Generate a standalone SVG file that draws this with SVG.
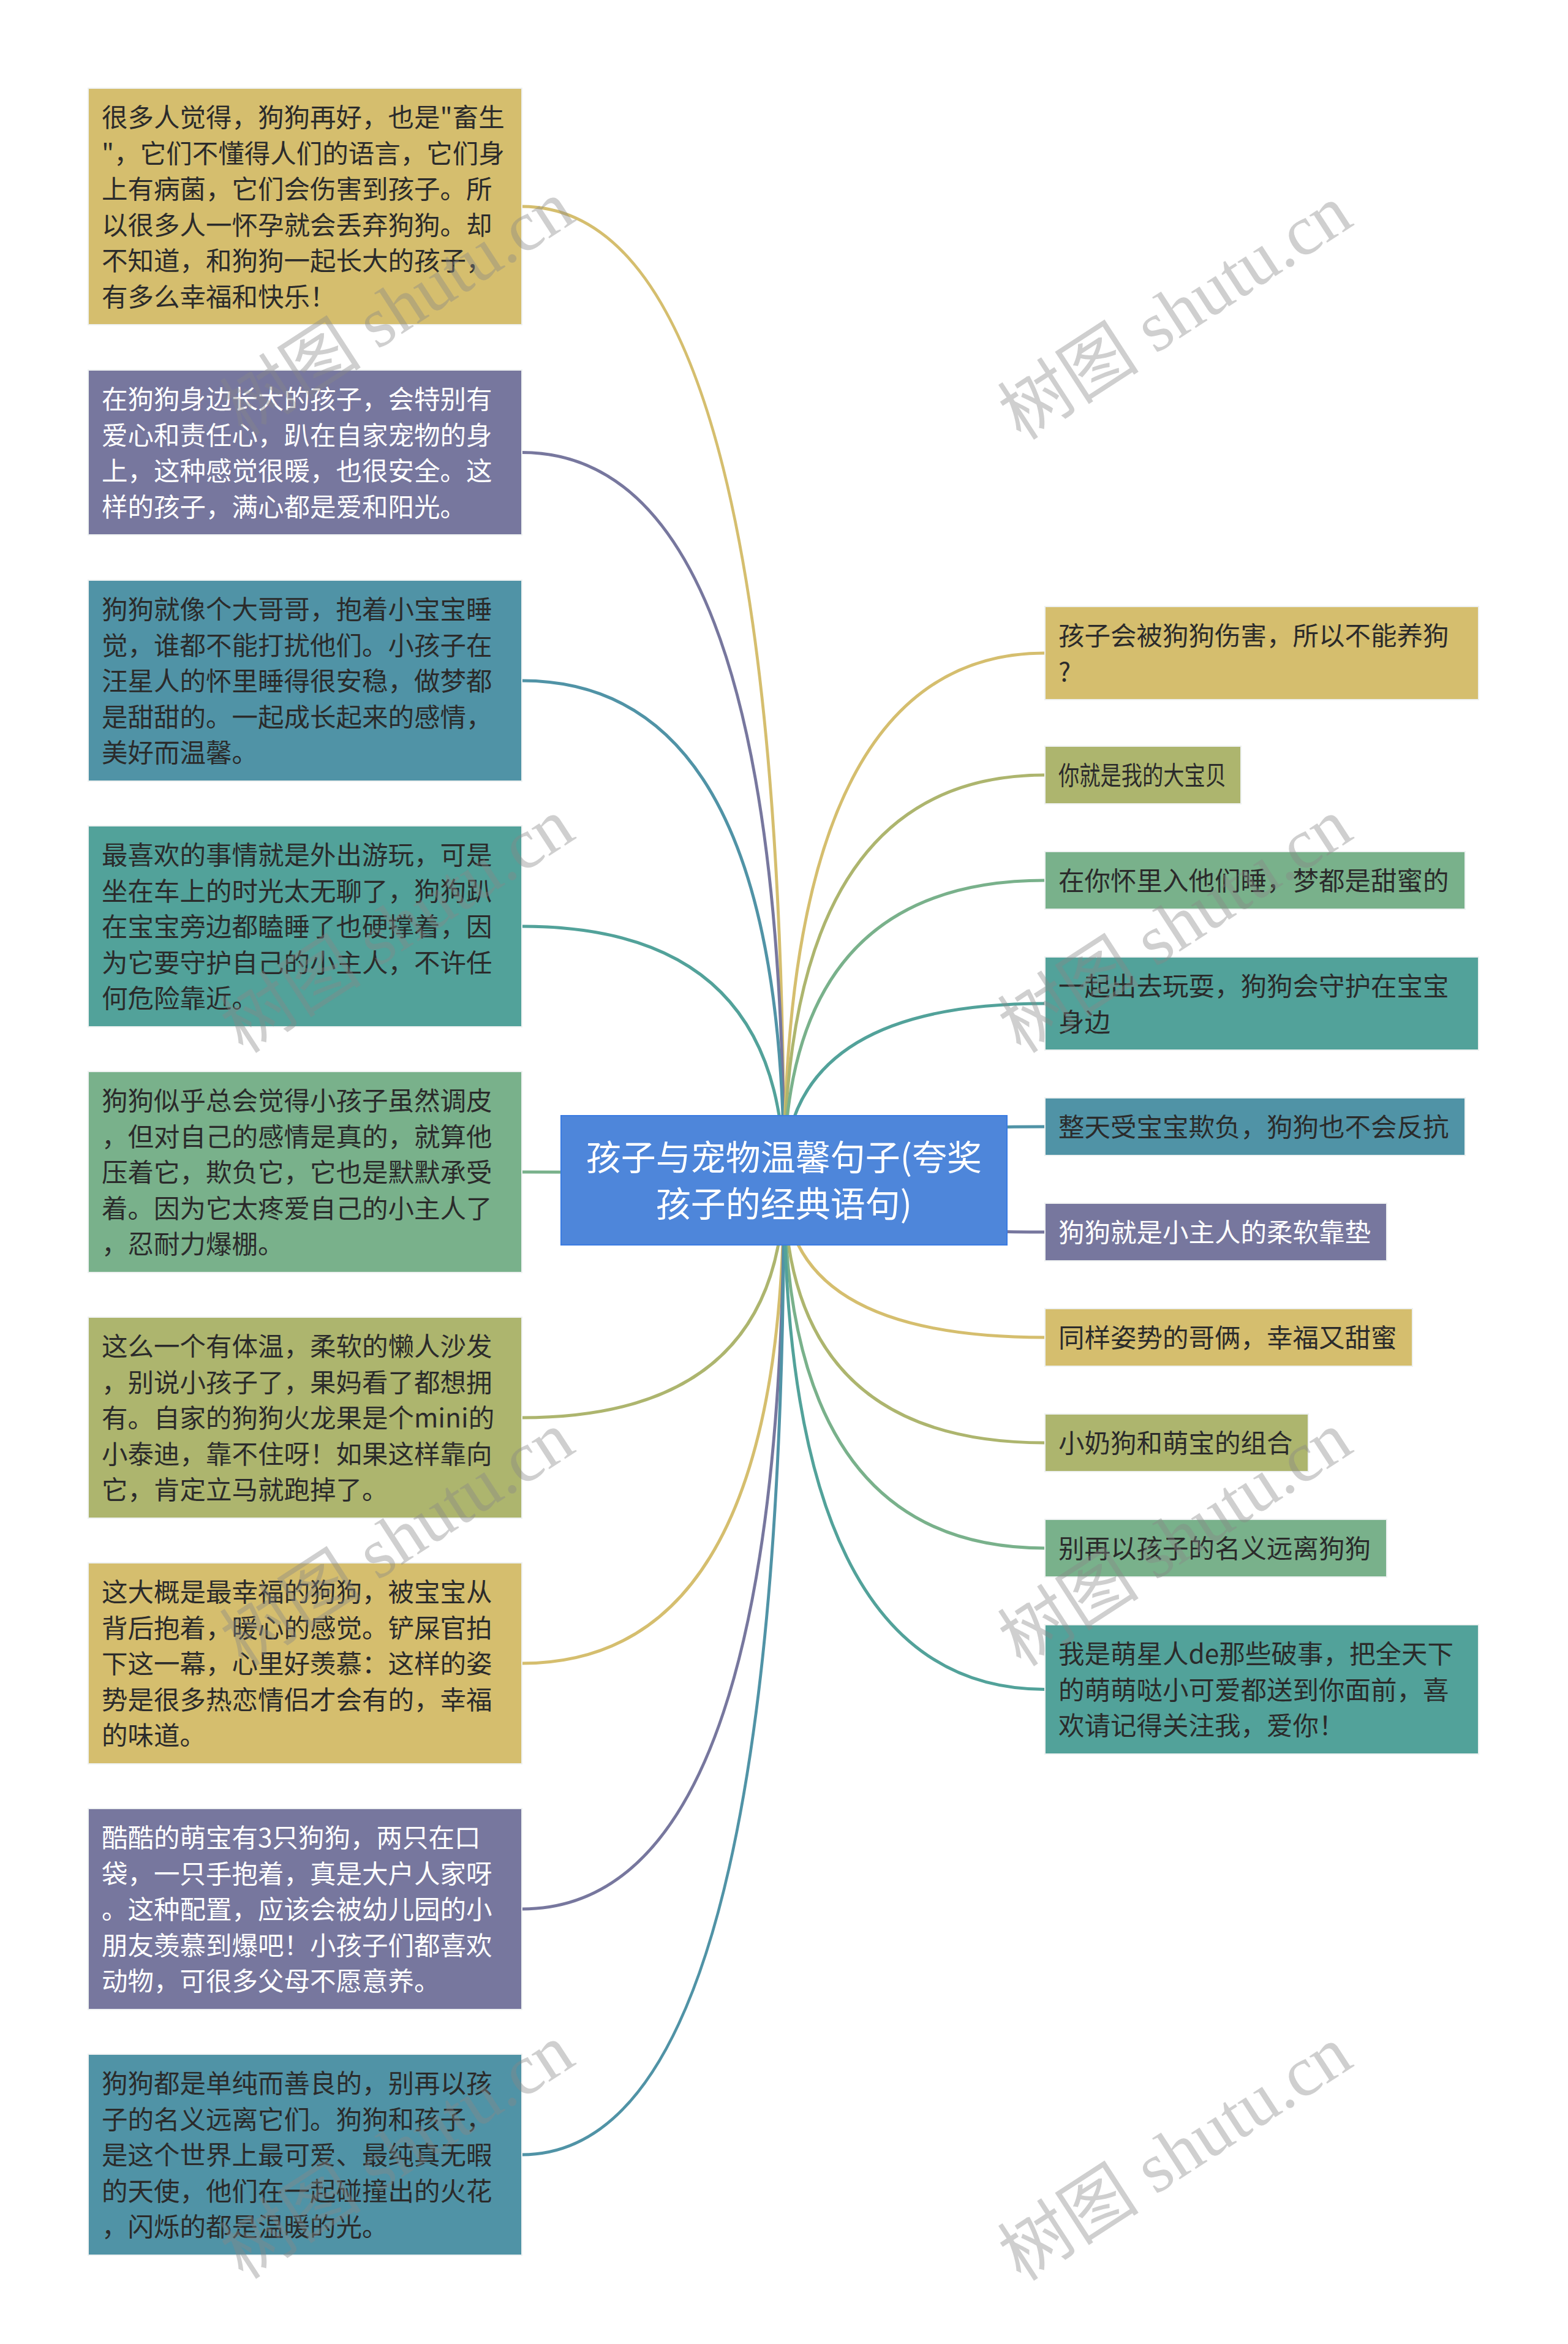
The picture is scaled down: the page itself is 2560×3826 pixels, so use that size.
<svg xmlns="http://www.w3.org/2000/svg" width="2560" height="3826" viewBox="0 0 2560 3826">
<style>
.n rect{stroke:#eef1f1;stroke-width:2}
.t{font-family:"Noto Sans CJK SC","Noto Sans",sans-serif;font-size:42.5px;fill:#2b2b2b}
.w{fill:#ffffff}
.ct{font-family:"Noto Sans CJK SC","Noto Sans",sans-serif;font-size:57px;fill:#ffffff;text-anchor:middle}
.yel{fill:#D5BE6E}.pur{fill:#77779E}.blu{fill:#5093A6}.tea{fill:#52A29A}.grn{fill:#79B18B}.olv{fill:#ADB56E}
#connectors path{fill:none;stroke-width:5}
.wm{font-family:"Liberation Serif","Noto Sans CJK SC",serif;font-size:116px;fill:#888888;opacity:0.4;text-anchor:middle}
</style>
<rect width="2560" height="3826" fill="#ffffff"/>
<g id="connectors">
<path d="M1280 1926 Q1280 337 852 337" stroke="#D5BE6E"/>
<path d="M1280 1926 Q1280 738.5 852 738.5" stroke="#77779E"/>
<path d="M1280 1926 Q1280 1111 852 1111" stroke="#5093A6"/>
<path d="M1280 1926 Q1280 1512 852 1512" stroke="#52A29A"/>
<path d="M1280 1926 Q1280 1913 852 1913" stroke="#79B18B"/>
<path d="M1280 1926 Q1280 2314 852 2314" stroke="#ADB56E"/>
<path d="M1280 1926 Q1280 2715 852 2715" stroke="#D5BE6E"/>
<path d="M1280 1926 Q1280 3116 852 3116" stroke="#77779E"/>
<path d="M1280 1926 Q1280 3517 852 3517" stroke="#5093A6"/>
<path d="M1280 1926 Q1280 1066 1706 1066" stroke="#D5BE6E"/>
<path d="M1280 1926 Q1280 1265 1706 1265" stroke="#ADB56E"/>
<path d="M1280 1926 Q1280 1437 1706 1437" stroke="#79B18B"/>
<path d="M1280 1926 Q1280 1638 1706 1638" stroke="#52A29A"/>
<path d="M1280 1926 Q1280 1839 1706 1839" stroke="#5093A6"/>
<path d="M1280 1926 Q1280 2011 1706 2011" stroke="#77779E"/>
<path d="M1280 1926 Q1280 2183 1706 2183" stroke="#D5BE6E"/>
<path d="M1280 1926 Q1280 2355 1706 2355" stroke="#ADB56E"/>
<path d="M1280 1926 Q1280 2527 1706 2527" stroke="#79B18B"/>
<path d="M1280 1926 Q1280 2757.5 1706 2757.5" stroke="#52A29A"/>
</g>
<g id="center">
<rect x="916" y="1821" width="728" height="211" fill="#4E86DA" stroke="#3A7BE2" stroke-width="2"/>
<text class="ct" x="1280" y="1910">孩子与宠物温馨句子(夸奖</text>
<text class="ct" x="1280" y="1986">孩子的经典语句)</text>
</g>
<g id="L1" class="n"><rect class="yel" x="144" y="144" width="708" height="386"/>
<text class="t" x="166" y="207">很多人觉得，狗狗再好，也是"畜生</text>
<text class="t" x="166" y="265.5">"，它们不懂得人们的语言，它们身</text>
<text class="t" x="166" y="324">上有病菌，它们会伤害到孩子。所</text>
<text class="t" x="166" y="382.5">以很多人一怀孕就会丢弃狗狗。却</text>
<text class="t" x="166" y="441">不知道，和狗狗一起长大的孩子，</text>
<text class="t" x="166" y="499.5">有多么幸福和快乐！</text></g>
<g id="L2" class="n"><rect class="pur" x="144" y="604" width="708" height="269"/>
<text class="t w" x="166" y="667">在狗狗身边长大的孩子，会特别有</text>
<text class="t w" x="166" y="725.5">爱心和责任心，趴在自家宠物的身</text>
<text class="t w" x="166" y="784">上，这种感觉很暖，也很安全。这</text>
<text class="t w" x="166" y="842.5">样的孩子，满心都是爱和阳光。</text></g>
<g id="L3" class="n"><rect class="blu" x="144" y="947" width="708" height="328"/>
<text class="t" x="166" y="1010">狗狗就像个大哥哥，抱着小宝宝睡</text>
<text class="t" x="166" y="1068.5">觉，谁都不能打扰他们。小孩子在</text>
<text class="t" x="166" y="1127">汪星人的怀里睡得很安稳，做梦都</text>
<text class="t" x="166" y="1185.5">是甜甜的。一起成长起来的感情，</text>
<text class="t" x="166" y="1244">美好而温馨。</text></g>
<g id="L4" class="n"><rect class="tea" x="144" y="1348" width="708" height="328"/>
<text class="t" x="166" y="1411">最喜欢的事情就是外出游玩，可是</text>
<text class="t" x="166" y="1469.5">坐在车上的时光太无聊了，狗狗趴</text>
<text class="t" x="166" y="1528">在宝宝旁边都瞌睡了也硬撑着，因</text>
<text class="t" x="166" y="1586.5">为它要守护自己的小主人，不许任</text>
<text class="t" x="166" y="1645">何危险靠近。</text></g>
<g id="L5" class="n"><rect class="grn" x="144" y="1749" width="708" height="328"/>
<text class="t" x="166" y="1812">狗狗似乎总会觉得小孩子虽然调皮</text>
<text class="t" x="166" y="1870.5">，但对自己的感情是真的，就算他</text>
<text class="t" x="166" y="1929">压着它，欺负它，它也是默默承受</text>
<text class="t" x="166" y="1987.5">着。因为它太疼爱自己的小主人了</text>
<text class="t" x="166" y="2046">，忍耐力爆棚。</text></g>
<g id="L6" class="n"><rect class="olv" x="144" y="2150" width="708" height="328"/>
<text class="t" x="166" y="2213">这么一个有体温，柔软的懒人沙发</text>
<text class="t" x="166" y="2271.5">，别说小孩子了，果妈看了都想拥</text>
<text class="t" x="166" y="2330">有。自家的狗狗火龙果是个mini的</text>
<text class="t" x="166" y="2388.5">小泰迪，靠不住呀！如果这样靠向</text>
<text class="t" x="166" y="2447">它，肯定立马就跑掉了。</text></g>
<g id="L7" class="n"><rect class="yel" x="144" y="2551" width="708" height="328"/>
<text class="t" x="166" y="2614">这大概是最幸福的狗狗，被宝宝从</text>
<text class="t" x="166" y="2672.5">背后抱着，暖心的感觉。铲屎官拍</text>
<text class="t" x="166" y="2731">下这一幕，心里好羡慕：这样的姿</text>
<text class="t" x="166" y="2789.5">势是很多热恋情侣才会有的，幸福</text>
<text class="t" x="166" y="2848">的味道。</text></g>
<g id="L8" class="n"><rect class="pur" x="144" y="2952" width="708" height="328"/>
<text class="t w" x="166" y="3015">酷酷的萌宝有3只狗狗，两只在口</text>
<text class="t w" x="166" y="3073.5">袋，一只手抱着，真是大户人家呀</text>
<text class="t w" x="166" y="3132">。这种配置，应该会被幼儿园的小</text>
<text class="t w" x="166" y="3190.5">朋友羡慕到爆吧！小孩子们都喜欢</text>
<text class="t w" x="166" y="3249">动物，可很多父母不愿意养。</text></g>
<g id="L9" class="n"><rect class="blu" x="144" y="3353" width="708" height="328"/>
<text class="t" x="166" y="3416">狗狗都是单纯而善良的，别再以孩</text>
<text class="t" x="166" y="3474.5">子的名义远离它们。狗狗和孩子，</text>
<text class="t" x="166" y="3533">是这个世界上最可爱、最纯真无暇</text>
<text class="t" x="166" y="3591.5">的天使，他们在一起碰撞出的火花</text>
<text class="t" x="166" y="3650">，闪烁的都是温暖的光。</text></g>
<g id="R1" class="n"><rect class="yel" x="1706" y="990" width="708" height="152"/>
<text class="t" x="1728" y="1053">孩子会被狗狗伤害，所以不能养狗</text>
<text class="t" x="1728" y="1111.5">?</text></g>
<g id="R2" class="n"><rect class="olv" x="1706" y="1218" width="320" height="94"/>
<text class="t" x="1728" y="1281" textLength="274" lengthAdjust="spacingAndGlyphs">你就是我的大宝贝</text></g>
<g id="R3" class="n"><rect class="grn" x="1706" y="1390" width="686" height="94"/>
<text class="t" x="1728" y="1453">在你怀里入他们睡，梦都是甜蜜的</text></g>
<g id="R4" class="n"><rect class="tea" x="1706" y="1562" width="708" height="152"/>
<text class="t" x="1728" y="1625">一起出去玩耍，狗狗会守护在宝宝</text>
<text class="t" x="1728" y="1683.5">身边</text></g>
<g id="R5" class="n"><rect class="blu" x="1706" y="1792" width="686" height="94"/>
<text class="t" x="1728" y="1855">整天受宝宝欺负，狗狗也不会反抗</text></g>
<g id="R6" class="n"><rect class="pur" x="1706" y="1964" width="558" height="94"/>
<text class="t w" x="1728" y="2027">狗狗就是小主人的柔软靠垫</text></g>
<g id="R7" class="n"><rect class="yel" x="1706" y="2136" width="600" height="94"/>
<text class="t" x="1728" y="2199">同样姿势的哥俩，幸福又甜蜜</text></g>
<g id="R8" class="n"><rect class="olv" x="1706" y="2308" width="430" height="94"/>
<text class="t" x="1728" y="2371">小奶狗和萌宝的组合</text></g>
<g id="R9" class="n"><rect class="grn" x="1706" y="2480" width="558" height="94"/>
<text class="t" x="1728" y="2543">别再以孩子的名义远离狗狗</text></g>
<g id="R10" class="n"><rect class="tea" x="1706" y="2652" width="708" height="211"/>
<text class="t" x="1728" y="2715">我是萌星人de那些破事，把全天下</text>
<text class="t" x="1728" y="2773.5">的萌萌哒小可爱都送到你面前，喜</text>
<text class="t" x="1728" y="2832">欢请记得关注我，爱你！</text></g>
<g id="watermarks">
<text class="wm" x="650" y="542" transform="rotate(-33 650 505)">树图 shutu.cn</text>
<text class="wm" x="1920" y="549" transform="rotate(-33 1920 512)">树图 shutu.cn</text>
<text class="wm" x="650" y="1550" transform="rotate(-33 650 1513)">树图 shutu.cn</text>
<text class="wm" x="1920" y="1550" transform="rotate(-33 1920 1513)">树图 shutu.cn</text>
<text class="wm" x="650" y="2551" transform="rotate(-33 650 2514)">树图 shutu.cn</text>
<text class="wm" x="1920" y="2551" transform="rotate(-33 1920 2514)">树图 shutu.cn</text>
<text class="wm" x="650" y="3551" transform="rotate(-33 650 3514)">树图 shutu.cn</text>
<text class="wm" x="1920" y="3554" transform="rotate(-33 1920 3517)">树图 shutu.cn</text>
</g>
</svg>
